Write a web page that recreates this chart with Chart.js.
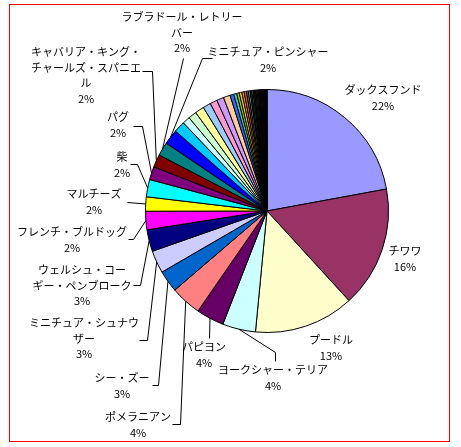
<!DOCTYPE html>
<html lang="ja">
<head>
<meta charset="utf-8">
<title>犬種別登録頭数</title>
<script src="https://cdn.jsdelivr.net/npm/chart.js@4/dist/chart.umd.min.js"></script>
<style>
  html, body { margin: 0; padding: 0; background: #fff; }
  #wrap { width: 461px; height: 447px; }
</style>
</head>
<body>
<div id="wrap"><canvas id="chart" width="461" height="447"></canvas></div>
<script>
// breeds, clockwise from 12 o'clock
const breeds = [
  'ダックスフンド', 'チワワ', 'プードル', 'ヨークシャー・テリア', 'パピヨン',
  'ポメラニアン', 'シー・ズー', 'ミニチュア・シュナウザー', 'ウェルシュ・コーギー・ペンブローク',
  'フレンチ・ブルドッグ', 'マルチーズ', '柴', 'パグ', 'キャバリア・キング・チャールズ・スパニエル',
  'ラブラドール・レトリーバー', 'ミニチュア・ピンシャー',
  'シェットランド・シープドッグ', 'ゴールデン・レトリーバー', 'ジャック・ラッセル・テリア',
  'ボストン・テリア', 'ビーグル', 'ウエスト・ハイランド・ホワイト・テリア',
  'イタリアン・グレーハウンド', 'アメリカン・コッカー・スパニエル',
  'ビション・フリーゼ', 'ボーダー・コリー', 'バーニーズ・マウンテン・ドッグ', 'ペキニーズ',
  'ブルドッグ', '日本スピッツ', 'ノーフォーク・テリア', 'ケアーン・テリア',
  'ワイアー・フォックス・テリア', 'シベリアン・ハスキー', 'ボルゾイ', 'ジャーマン・シェパード・ドッグ',
  'ドーベルマン', 'グレート・ピレニーズ', '狆', 'ウィペット',
  'スコティッシュ・テリア', 'ノーリッチ・テリア', 'ラサ・アプソ', 'チャイニーズ・クレステッド・ドッグ',
  'ダルメシアン', 'ニューファンドランド', 'バセット・ハウンド', 'チャウ・チャウ',
  'ワイマラナー', 'フラットコーテッド・レトリーバー', 'セント・バーナード', 'グレート・デーン',
  '甲斐', '北海道', '紀州', '秋田'
];

// share of registrations (%)
const shares = [
  22.1, 16.1, 13.3, 4.4, 3.7,
  4.1, 2.9, 3.0, 2.9,
  2.45, 1.9, 2.3, 1.75, 1.7,
  1.8, 2.0,
  1.5, 1.0, 1.1,
  1.2, 1.05, 0.95,
  0.95, 0.9,
  0.5, 0.4, 0.35, 0.35,
  0.3, 0.3, 0.25, 0.25,
  0.2, 0.2, 0.18, 0.18,
  0.16, 0.15, 0.14, 0.13,
  0.1, 0.09, 0.08, 0.07,
  0.07, 0.06, 0.06, 0.05,
  0.05, 0.05, 0.04, 0.04,
  0.03, 0.03, 0.03, 0.03
];

// old Excel chart palette, in the order it hands out fills
const sliceColors = [
  '#9999FF', '#993366', '#FFFFCC', '#CCFFFF', '#660066', '#FF8080', '#0066CC', '#CCCCFF',
  '#000080', '#FF00FF', '#FFFF00', '#00FFFF', '#800080', '#800000', '#008080', '#0000FF',
  '#00CCFF', '#CCFFFF', '#CCFFCC', '#FFFF99', '#99CCFF', '#FF99CC', '#CC99FF', '#FFCC99',
  '#3366FF', '#33CCCC', '#99CC00', '#FFCC00', '#FF9900', '#FF6600', '#666699', '#969696',
  '#003366', '#339966', '#003300', '#333300', '#993300', '#993366', '#333399', '#333333',
  '#000000', '#FFFFFF', '#FF0000', '#00FF00', '#0000FF', '#FFFF00', '#FF00FF', '#00FFFF',
  '#800000', '#008000', '#000080', '#808000', '#800080', '#008080', '#C0C0C0', '#808080'
];

// where each label sits (first line centre) and the bend points of its leader
const labelLayout = [
  { i: 0,  x: 383, y: 90,  lines: ['ダックスフンド'] },
  { i: 1,  x: 405, y: 251, lines: ['チワワ'] },
  { i: 2,  x: 331, y: 340, lines: ['プードル'] },
  { i: 3,  x: 273, y: 370, lines: ['ヨークシャー・テリア'], leader: [[275, 361], [275, 352]] },
  { i: 4,  x: 204, y: 347, lines: ['パピヨン'], leader: [[209, 338]] },
  { i: 5,  x: 138, y: 417, lines: ['ポメラニアン'], leader: [[172, 424], [180, 424]] },
  { i: 6,  x: 122, y: 378, lines: ['シー・ズー'], leader: [[152, 385], [158, 385]] },
  { i: 7,  x: 84,  y: 323, lines: ['ミニチュア・シュナウ', 'ザー'], leader: [[139, 340], [147, 340]] },
  { i: 8,  x: 82,  y: 270, lines: ['ウェルシュ・コー', 'ギー・ペンブローク'], leader: [[133, 285], [140, 285]] },
  { i: 9,  x: 72,  y: 232, lines: ['フレンチ・ブルドッグ'], leader: [[128, 239], [133, 239]] },
  { i: 10, x: 94,  y: 194, lines: ['マルチーズ'], leader: [[127, 202]] },
  { i: 11, x: 122, y: 157, lines: ['柴'], leader: [[130, 164], [137, 164]] },
  { i: 12, x: 118, y: 117, lines: ['パグ'], leader: [[133, 126], [142, 126]] },
  { i: 13, x: 86,  y: 52,  lines: ['キャバリア・キング・', 'チャールズ・スパニエ', 'ル'], leader: [[142, 71], [152, 71]] },
  { i: 14, x: 182, y: 17,  lines: ['ラブラドール・レトリー', 'バー'], leader: [[183, 58]] },
  { i: 15, x: 268, y: 52,  lines: ['ミニチュア・ピンシャー'], leader: [[212, 58], [202, 58]] }
];
const lineHeight = 15.5;

const excelLabels = {
  id: 'excelLabels',
  afterDatasetsDraw(chart) {
    const ctx = chart.ctx;
    const arcs = chart.getDatasetMeta(0).data;
    const total = shares.reduce((a, b) => a + b, 0);
    ctx.save();
    ctx.lineWidth = 1;
    ctx.strokeStyle = '#000';
    ctx.fillStyle = '#000';
    ctx.font = '11px "Noto Sans CJK JP", "Noto Sans CJK SC", sans-serif';
    ctx.textAlign = 'center';
    ctx.textBaseline = 'middle';

    labelLayout.forEach(lab => {
      const p = arcs[lab.i].getProps(['x', 'y', 'startAngle', 'endAngle', 'outerRadius'], true);
      const mid = (p.startAngle + p.endAngle) / 2;
      const ex = p.x + Math.cos(mid) * p.outerRadius;
      const ey = p.y + Math.sin(mid) * p.outerRadius;
      if (lab.leader) {
        ctx.beginPath();
        lab.leader.forEach(([lx, ly], k) => {
          if (k === 0) ctx.moveTo(lx + 0.5, ly + 0.5);
          else ctx.lineTo(lx + 0.5, ly + 0.5);
        });
        ctx.lineTo(ex, ey);
        ctx.stroke();
      }
      const pct = Math.round(shares[lab.i] / total * 100) + '%';
      lab.lines.concat(pct).forEach((t, k) => {
        ctx.fillText(t, lab.x, lab.y + k * lineHeight);
      });
    });

    // red frame around the plot
    ctx.strokeStyle = '#FF0000';
    ctx.strokeRect(9.5, 4.5, 440, 437);
    ctx.restore();
  }
};

new Chart(document.getElementById('chart'), {
  type: 'pie',
  data: {
    labels: breeds,
    datasets: [{
      data: shares,
      backgroundColor: sliceColors,
      borderColor: '#000000',
      borderWidth: 1
    }]
  },
  options: {
    responsive: false,
    devicePixelRatio: 1,
    animation: false,
    layout: { padding: { left: 145, right: 72, top: 89, bottom: 114 } },
    plugins: {
      legend: { display: false },
      tooltip: { enabled: false },
      title: { display: false }
    }
  },
  plugins: [excelLabels]
});
</script>
</body>
</html>
